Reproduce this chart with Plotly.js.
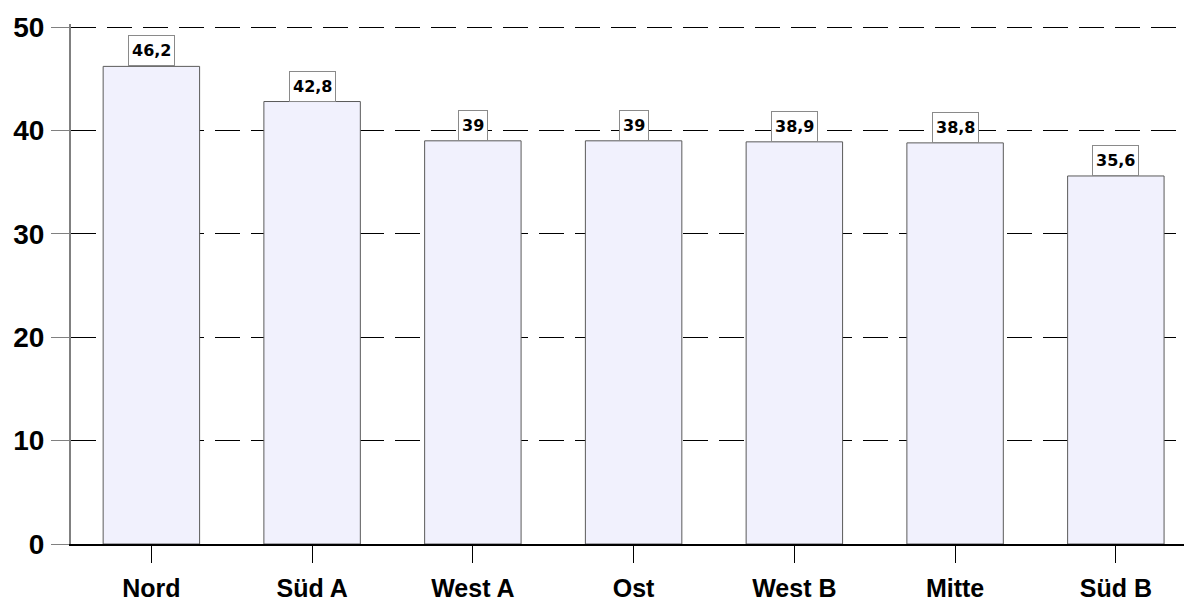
<!DOCTYPE html>
<html>
<head>
<meta charset="utf-8">
<script src="https://cdn.plot.ly/plotly-3.0.1.min.js"></script>
<style>
  html, body { margin: 0; padding: 0; background: #ffffff; }
  #chart { width: 1184px; height: 601px; }
</style>
</head>
<body>
<div id="chart"></div>
<script>
const categories = ["Nord", "Süd A", "West A", "Ost", "West B", "Mitte", "Süd B"];
const values = [46.2, 42.8, 39, 39, 38.9, 38.8, 35.6];
const yTickValues = [0, 10, 20, 30, 40, 50];

const labelTexts = values.map(v => String(v).replace('.', ','));

const trace = {
  type: 'bar',
  x: categories,
  y: values,
  width: 0.6,
  marker: {
    color: '#f1f1fd',
    line: { color: '#5a5a5a', width: 1 }
  },
  hoverinfo: 'none'
};

const annotations = categories.map((c, i) => ({
  x: c,
  y: values[i],
  xref: 'x',
  yref: 'y',
  text: labelTexts[i],
  showarrow: false,
  xanchor: 'center',
  yanchor: 'bottom',
  height: 23,
  bgcolor: '#ffffff',
  bordercolor: '#8a8a8a',
  borderwidth: 1,
  borderpad: 3,
  font: { family: 'DejaVu Sans, Arial, sans-serif', size: 16, color: '#000000', weight: 'bold' }
}));

const layout = {
  width: 1184,
  height: 601,
  margin: { l: 71, r: 0, t: 24, b: 57, pad: 0 },
  paper_bgcolor: '#ffffff',
  plot_bgcolor: '#ffffff',
  showlegend: false,
  bargap: 0.4,
  xaxis: {
    type: 'category',
    range: [-0.5, 6.424],
    showgrid: false,
    zeroline: false,
    showline: true,
    linecolor: '#000000',
    linewidth: 2,
    ticks: 'outside',
    ticklen: 17,
    tickwidth: 1,
    tickcolor: '#000000',
    tickfont: { family: 'Liberation Sans, Arial, sans-serif', size: 25, color: '#000000', weight: 'bold' },
    ticklabelstandoff: 4,
    fixedrange: true
  },
  yaxis: {
    range: [0, 50.3],
    tickvals: yTickValues,
    ticktext: yTickValues.map(String),
    showgrid: true,
    gridcolor: '#000000',
    gridwidth: 1,
    griddash: '25px,11px',
    zeroline: false,
    showline: true,
    linecolor: '#808080',
    linewidth: 2,
    ticks: 'outside',
    ticklen: 18,
    tickwidth: 1,
    tickcolor: '#808080',
    tickfont: { family: 'Liberation Sans, Arial, sans-serif', size: 28, color: '#000000', weight: 'bold' },
    ticklabelstandoff: 1,
    fixedrange: true
  },
  annotations: annotations
};

Plotly.newPlot('chart', [trace], layout, { staticPlot: true, displayModeBar: false });
</script>
</body>
</html>
